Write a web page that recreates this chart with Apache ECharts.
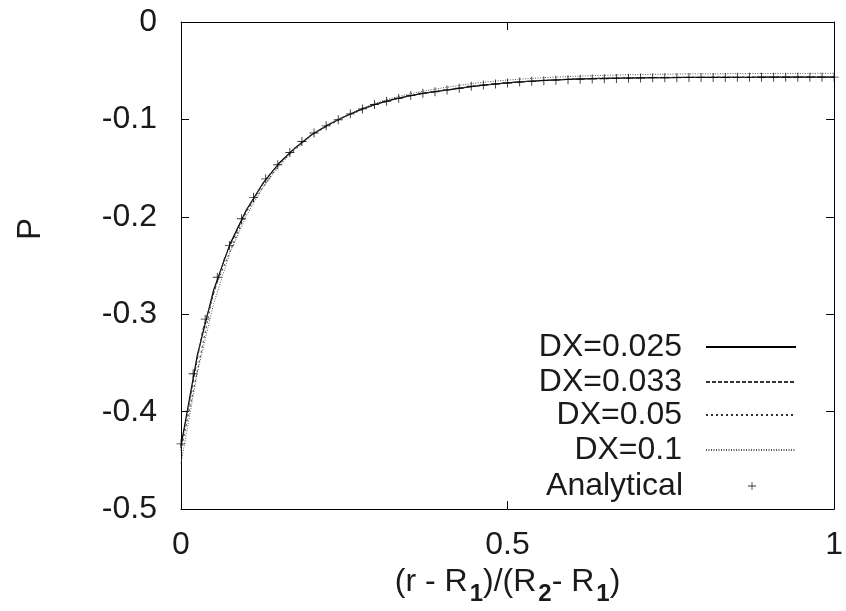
<!DOCTYPE html>
<html>
<head>
<meta charset="utf-8">
<script src="https://cdn.jsdelivr.net/npm/echarts@6/dist/echarts.min.js"></script>
<style>html,body{margin:0;padding:0;background:#fff}#c{width:846px;height:611px}</style>
</head>
<body>
<div id="c"></div>
<script>
// x positions for finite-difference solutions (step 0.025 / 1/30 / 0.05)
const x025 = [0,0.025,0.05,0.075,0.1,0.125,0.15,0.175,0.2,0.225,0.25,0.275,0.3,0.325,0.35,0.375,0.4,0.425,0.45,0.475,0.5,0.525,0.55,0.575,0.6,0.625,0.65,0.675,0.7,0.725,0.75,0.775,0.8,0.825,0.85,0.875,0.9,0.925,0.95,0.975,1];
const p025 = [-0.435,-0.342,-0.275,-0.228,-0.193,-0.166,-0.145,-0.129,-0.1157,-0.1056,-0.0973,-0.0899,-0.0840,-0.0795,-0.0758,-0.0727,-0.0705,-0.0681,-0.0659,-0.0640,-0.0624,-0.0612,-0.0602,-0.0594,-0.0587,-0.0582,-0.0578,-0.0575,-0.0573,-0.0571,-0.0570,-0.0569,-0.0568,-0.0568,-0.0567,-0.0567,-0.0566,-0.0566,-0.0566,-0.0566,-0.0565];
const x033 = [0,0.0333,0.0667,0.1,0.1333,0.1667,0.2,0.2333,0.2667,0.3,0.3333,0.3667,0.4,0.4333,0.4667,0.5,0.5333,0.5667,0.6,0.6333,0.6667,0.7,0.7333,0.7667,0.8,0.8333,0.8667,0.9,0.9333,0.9667,1];
const p033 = [-0.437,-0.316,-0.242,-0.194,-0.158,-0.134,-0.1158,-0.1027,-0.0920,-0.0840,-0.0782,-0.0735,-0.0705,-0.0673,-0.0646,-0.0624,-0.0609,-0.0597,-0.0587,-0.0580,-0.0576,-0.0573,-0.0571,-0.0569,-0.0568,-0.0567,-0.0567,-0.0566,-0.0566,-0.0565,-0.0565];
const x05 = [0,0.05,0.1,0.15,0.2,0.25,0.3,0.35,0.4,0.45,0.5,0.55,0.6,0.65,0.7,0.75,0.8,0.85,0.9,0.95,1];
const p05 = [-0.440,-0.276,-0.195,-0.146,-0.1160,-0.0975,-0.0840,-0.0757,-0.0703,-0.0657,-0.0622,-0.0600,-0.0585,-0.0576,-0.0571,-0.0568,-0.0566,-0.0565,-0.0564,-0.0564,-0.0563];
const x1 = x025;
const p1 = [-0.453,-0.360,-0.289,-0.237,-0.199,-0.170,-0.148,-0.130,-0.1165,-0.1055,-0.0965,-0.0890,-0.0828,-0.0778,-0.0738,-0.0705,-0.0677,-0.0652,-0.0628,-0.0610,-0.0596,-0.0584,-0.0574,-0.0565,-0.0558,-0.0552,-0.0547,-0.0543,-0.0540,-0.0537,-0.0535,-0.0533,-0.0532,-0.0531,-0.0530,-0.0529,-0.0529,-0.0528,-0.0528,-0.0527,-0.0527];
// analytical solution sampled at 55 equally spaced points (i/54)
const pAna = [-0.433,-0.361,-0.305,-0.262,-0.2295,-0.202,-0.180,-0.161,-0.1465,-0.134,-0.1226,-0.114,-0.1066,-0.1004,-0.0943,-0.0892,-0.0847,-0.0813,-0.0782,-0.0755,-0.0731,-0.0717,-0.0697,-0.0680,-0.0660,-0.0646,-0.0636,-0.0626,-0.0617,-0.0609,-0.0602,-0.0597,-0.0592,-0.0588,-0.0585,-0.0582,-0.0579,-0.0577,-0.0575,-0.0573,-0.0572,-0.0571,-0.0570,-0.0570,-0.0569,-0.0569,-0.0568,-0.0568,-0.0567,-0.0567,-0.0567,-0.0566,-0.0566,-0.0566,-0.0566];
const names = ['DX=0.025','DX=0.033','DX=0.05','DX=0.1','Analytical'];
const xTicks = [0, 0.5, 1];
const yTicks = [0, -0.1, -0.2, -0.3, -0.4, -0.5];

const zip = (xs, ys) => xs.map((x, i) => [x, ys[i]]);
const anaData = pAna.map((p, i) => [i / (pAna.length - 1), p]);

const TXT = '#1a1a1a';
const FONT = 'Liberation Sans';
const cross = 'path://M9,0h2v20h-2zM0,9h20v2h-20z';

const rowTops = [331, 366, 399, 434, 470];
const legends = names.map((n, i) => {
  const ana = i === 4;
  return {
    data: ana ? [{ name: n, icon: cross }] : [n],
    orient: 'vertical',
    align: 'right',
    right: ana ? 90 : 49,
    top: rowTops[i],
    padding: 0,
    itemWidth: ana ? 8 : 90,
    itemHeight: ana ? 8 : 14,
    selectedMode: false,
    itemStyle: ana ? { color: '#000' } : { opacity: 0, color: 'rgba(0,0,0,0)', borderWidth: 0 },
    textStyle: { fontSize: 32, fontFamily: FONT, color: TXT, padding: [0, ana ? 60 : 19, 0, 0], lineHeight: 32 }
  };
});

const lineSeries = (name, data, color, type, width) => ({
  name, type: 'line', data, symbol: 'none', animation: false,
  xAxisIndex: 0, yAxisIndex: 0,
  lineStyle: { color, width, type }, itemStyle: { color }
});

const frameLine = { show: true, onZero: false, lineStyle: { color: '#000', width: 1 } };
const inTick = { show: true, inside: true, length: 8, lineStyle: { color: '#000' } };

const option = {
  animation: false,
  backgroundColor: '#fff',
  grid: { left: 181, right: 8, top: 22, bottom: 101 },
  legend: legends,
  xAxis: [
    { type: 'value', min: 0, max: 1, interval: 0.5, position: 'bottom',
      axisLine: frameLine, axisTick: inTick, splitLine: { show: false },
      axisLabel: { margin: 20, fontSize: 32, fontFamily: FONT, color: TXT },
      name: '{n|(r - R}{s|1}{n|)/(R}{s|2}{n|- R}{s|1}{n|)}',
      nameLocation: 'middle', nameGap: 54,
      nameTextStyle: { rich: {
        n: { fontSize: 32, fontFamily: FONT, color: TXT, lineHeight: 32, verticalAlign: 'top' },
        s: { fontSize: 24, fontWeight: 'bold', fontFamily: FONT, color: TXT, lineHeight: 24, padding: [16, 0, 0, 2], verticalAlign: 'top' }
      } } },
    { type: 'value', min: 0, max: 1, interval: 0.5, position: 'top',
      axisLine: frameLine, axisTick: inTick,
      splitLine: { show: false }, axisLabel: { show: false } }
  ],
  yAxis: [
    { type: 'value', min: -0.5, max: 0, interval: 0.1, position: 'left',
      axisLine: frameLine, axisTick: inTick, splitLine: { show: false },
      axisLabel: { margin: 24, fontSize: 32, fontFamily: FONT, color: TXT } },
    { type: 'value', min: -0.5, max: 0, interval: 0.1, position: 'right',
      axisLine: frameLine, axisTick: inTick,
      splitLine: { show: false }, axisLabel: { show: false } }
  ],
  graphic: [
    { type: 'text', left: 14, top: 218, rotation: Math.PI / 2,
      style: { text: 'P', fontSize: 33, fontFamily: FONT, fill: TXT } }
  ],
  series: [
    lineSeries(names[0], zip(x025, p025), '#000', 'solid', 1.2),
    lineSeries(names[1], zip(x033, p033), '#333', [4, 2], 1),
    lineSeries(names[2], zip(x05, p05), '#333', [2, 3], 1),
    lineSeries(names[3], zip(x1, p1), '#555', [1, 1.5], 1),
    { name: names[4], type: 'scatter', data: anaData, symbol: cross, symbolSize: 9,
      itemStyle: { color: '#000' }, animation: false, z: 5 }
  ]
};
const chart = echarts.init(document.getElementById('c'), null, { renderer: 'canvas' });
chart.setOption(option);
</script>
</body>
</html>
